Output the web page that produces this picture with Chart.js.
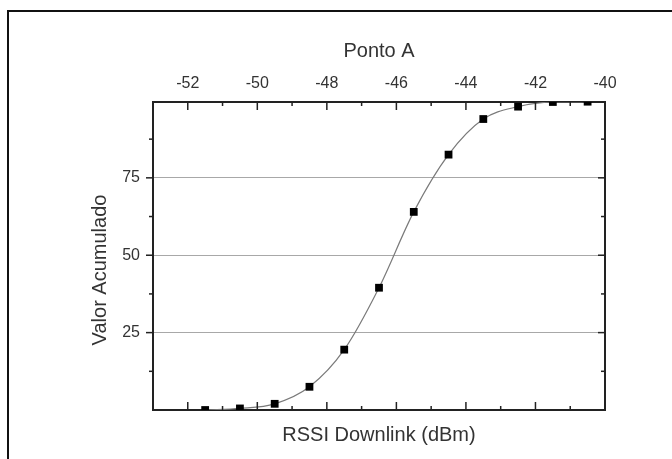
<!DOCTYPE html>
<html>
<head>
<meta charset="utf-8">
<script src="https://cdn.jsdelivr.net/npm/chart.js@4"></script>
<style>
  html, body { margin: 0; padding: 0; background: #fff; }
  #wrap { position: relative; width: 672px; height: 459px; overflow: hidden; }
  #frame { position: absolute; left: 7px; top: 10px; width: 700px; height: 500px;
           border-left: 2px solid #111; border-top: 2px solid #111; }
  #chart { position: absolute; left: 0; top: 0; }
</style>
</head>
<body>
<div id="wrap">
  <div id="frame"></div>
  <canvas id="chart" width="672" height="459"></canvas>
</div>
<script>
// Ponto A - cumulative distribution of RSSI downlink
const rssi = [-51.5, -50.5, -49.5, -48.5, -47.5, -46.5, -45.5, -44.5, -43.5, -42.5, -41.5, -40.5];
const acumulado = [0, 0.5, 2, 7.5, 19.5, 39.5, 64, 82.5, 94, 98, 99.5, 99.6];

const xMajor = [-52, -50, -48, -46, -44, -42, -40];
const xMinor = [-51, -49, -47, -45, -43, -41];
const yMajor = [25, 50, 75];
const yMinor = [12.5, 37.5, 62.5, 87.5];

const textColor = '#333';
const fontFamily = '"Liberation Sans", Arial, sans-serif';

function setTicks(major, minor) {
  return scale => {
    scale.ticks = major.concat(minor).sort((a, b) => a - b)
      .map(v => ({ value: v, major: major.includes(v) }));
  };
}

// inward / outward tick marks like the original plot
const tickMarks = {
  id: 'tickMarks',
  afterDraw(chart) {
    const { ctx, chartArea: a, scales: { x, y } } = chart;
    ctx.save();
    ctx.strokeStyle = '#222';
    ctx.lineWidth = 1.5;
    const line = (x1, y1, x2, y2) => {
      ctx.beginPath(); ctx.moveTo(x1, y1); ctx.lineTo(x2, y2); ctx.stroke();
    };
    x.ticks.forEach(t => {
      const px = x.getPixelForValue(t.value);
      const len = t.major ? 8 : 4;
      line(px, a.top, px, a.top + len);
      line(px, a.bottom, px, a.bottom - len);
    });
    y.ticks.forEach(t => {
      const py = y.getPixelForValue(t.value);
      const len = t.major ? 7 : 4;
      line(a.left - len, py, a.left, py);
      line(a.right - len, py, a.right, py);
    });
    // y axis title
    ctx.fillStyle = textColor;
    ctx.font = '20px ' + fontFamily;
    ctx.textAlign = 'center';
    ctx.textBaseline = 'middle';
    ctx.translate(100, 270);
    ctx.rotate(-Math.PI / 2);
    ctx.fillText('Valor Acumulado', 0, 0);
    ctx.restore();
  }
};

const border = { display: true, color: '#222', width: 2 };

new Chart(document.getElementById('chart'), {
  type: 'scatter',
  data: {
    datasets: [{
      data: rssi.map((v, i) => ({ x: v, y: acumulado[i] })),
      showLine: true,
      borderColor: '#7a7a7a',
      borderWidth: 1.2,
      cubicInterpolationMode: 'monotone',
      pointStyle: 'rect',
      pointRadius: 5.5,
      pointBorderWidth: 0,
      pointBackgroundColor: '#000',
      xAxisID: 'x',
      yAxisID: 'y'
    }]
  },
  options: {
    responsive: false,
    animation: false,
    layout: { padding: 0 },
    plugins: { legend: { display: false }, tooltip: { enabled: false } },
    scales: {
      x: {
        type: 'linear', position: 'top', min: -53, max: -40,
        afterBuildTicks: setTicks(xMajor, xMinor),
        afterFit: s => { s.height = 102; },
        grid: { drawOnChartArea: false, drawTicks: false },
        border,
        ticks: {
          autoSkip: false, maxRotation: 0, padding: 9,
          color: textColor, font: { family: fontFamily, size: 16 },
          callback: v => xMajor.includes(v) ? String(v) : ''
        },
        title: {
          display: true, text: 'Ponto A', color: textColor,
          font: { family: fontFamily, size: 20 }, padding: { top: 39, bottom: 0 }
        }
      },
      x2: {
        type: 'linear', position: 'bottom', min: -53, max: -40,
        afterBuildTicks: setTicks(xMajor, xMinor),
        afterFit: s => { s.height = 49; },
        grid: { drawOnChartArea: false, drawTicks: false },
        border,
        ticks: { display: false },
        title: {
          display: true, text: 'RSSI Downlink (dBm)', color: textColor,
          font: { family: fontFamily, size: 20 }, padding: { top: 0, bottom: 12 }
        }
      },
      y: {
        type: 'linear', position: 'left', min: 0, max: 99.5,
        afterBuildTicks: setTicks(yMajor, yMinor),
        afterFit: s => { s.width = 153; },
        grid: {
          drawTicks: false,
          color: c => yMajor.includes(c.tick.value) ? '#a8a8a8' : 'rgba(0,0,0,0)',
          lineWidth: 1
        },
        border,
        ticks: {
          autoSkip: false, padding: 13,
          color: textColor, font: { family: fontFamily, size: 16 },
          callback: v => yMajor.includes(v) ? String(v) : ''
        }
      },
      y2: {
        type: 'linear', position: 'right', min: 0, max: 99.5,
        afterBuildTicks: setTicks(yMajor, yMinor),
        afterFit: s => { s.width = 67; },
        grid: { drawOnChartArea: false, drawTicks: false },
        border,
        ticks: { display: false }
      }
    }
  },
  plugins: [tickMarks]
});
</script>
</body>
</html>
